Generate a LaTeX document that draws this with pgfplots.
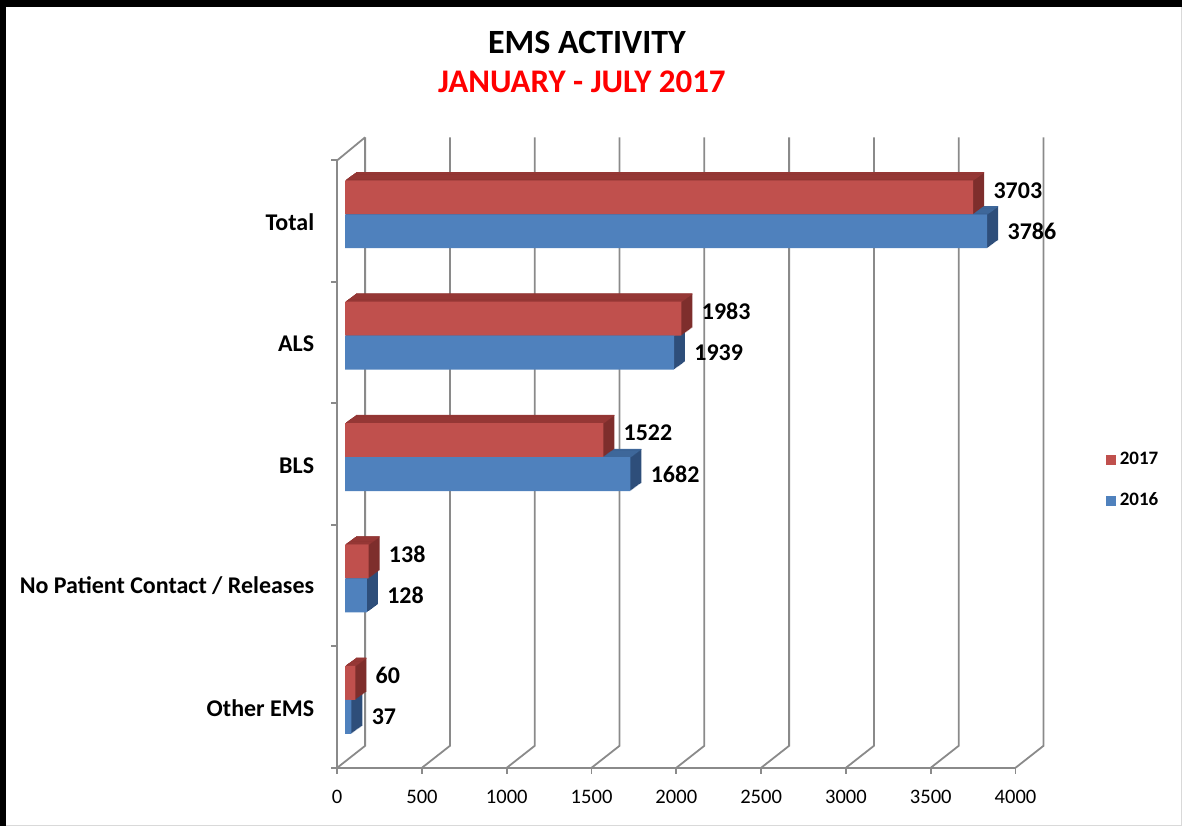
\documentclass[border=0pt]{standalone}
\usepackage{fontspec}
\setmainfont{Carlito}
\usepackage{pgfplots}
\pgfplotsset{compat=1.18}
\usepackage{pgfplotstable}
\definecolor{redF}{HTML}{C0504D}
\definecolor{redT}{HTML}{953735}
\definecolor{redS}{HTML}{7E2E2C}
\definecolor{bluF}{HTML}{4F81BD}
\definecolor{bluT}{HTML}{3E679A}
\definecolor{bluS}{HTML}{2E4E7A}
\definecolor{gridc}{HTML}{8A8A8A}
\definecolor{framegray}{HTML}{D9D9D9}
\pgfplotstableread{
y v17 v16
0 60 37
1 138 128
2 1522 1682
3 1983 1939
4 3703 3786
}\datatab
\begin{document}
\begin{tikzpicture}
\begin{axis}[
  x=0.084875pt, y=60.75pt,
  xmin=-47.13, xmax=3952.87, ymin=-0.5597, ymax=4.444,
  axis x line=bottom, axis y line=left,
  axis line style={gridc, line width=0.9pt, -},
  clip=false,
  xtick={-47.13,452.87,952.87,1452.87,1952.87,2452.87,2952.87,3452.87,3952.87},
  xticklabels={0,500,1000,1500,2000,2500,3000,3500,4000},
  ytick={-0.5597,0.4411,1.4419,2.4427,3.4435,4.444},
  yticklabels={},
  tick align=outside, major tick length=3pt,
  tick style={gridc, line width=0.9pt},
  extra y ticks={-0.066,0.938,1.926,2.930,3.934},
  extra y tick labels={Other EMS, No Patient Contact / Releases, BLS, ALS, Total},
  extra y tick style={major tick length=0pt,
    yticklabel style={font=\bfseries\fontsize{12}{14}\selectfont, xshift=-8pt}},
  xticklabel style={font=\fontsize{10.3}{12}\selectfont, yshift=-4.5pt},
  /pgf/number format/assume math mode=true,
  /pgf/number format/1000 sep={},
  legend style={draw=none, fill=none, at={(axis cs:4483,2.075)}, anchor=north west,
    font=\bfseries\fontsize{9.5}{11}\selectfont, row sep=8.5pt, inner sep=0pt},
  legend cell align=left,
]
% back wall and floor grid
\addplot[gridc, line width=0.9pt, forget plot] coordinates {(-47.13,4.444) (117.8,4.634)};
\addplot[gridc, line width=0.9pt, forget plot] coordinates {(-47.13,-0.5597) (117.8,-0.3786) (117.8,4.634)};
\addplot[gridc, line width=0.9pt, forget plot] coordinates {(452.87,-0.5597) (617.8,-0.3786) (617.8,4.634)};
\addplot[gridc, line width=0.9pt, forget plot] coordinates {(952.87,-0.5597) (1117.8,-0.3786) (1117.8,4.634)};
\addplot[gridc, line width=0.9pt, forget plot] coordinates {(1452.87,-0.5597) (1617.8,-0.3786) (1617.8,4.634)};
\addplot[gridc, line width=0.9pt, forget plot] coordinates {(1952.87,-0.5597) (2117.8,-0.3786) (2117.8,4.634)};
\addplot[gridc, line width=0.9pt, forget plot] coordinates {(2452.87,-0.5597) (2617.8,-0.3786) (2617.8,4.634)};
\addplot[gridc, line width=0.9pt, forget plot] coordinates {(2952.87,-0.5597) (3117.8,-0.3786) (3117.8,4.634)};
\addplot[gridc, line width=0.9pt, forget plot] coordinates {(3452.87,-0.5597) (3617.8,-0.3786) (3617.8,4.634)};
\addplot[gridc, line width=0.9pt, forget plot] coordinates {(3952.87,-0.5597) (4117.8,-0.3786) (4117.8,4.634)};
% blue extrusion
\pgfplotsinvokeforeach{1,...,11}{
  \addplot[xbar, bar width=0.28, bar shift=-0.14, fill=bluS, draw=none, forget plot,
    xshift=#1*0.5pt, yshift=#1*0.3636pt] table[x=v16,y=y]{\datatab};
}
\pgfplotsinvokeforeach{1,...,11}{
  \addplot[xbar, bar width=0.009, bar shift=0, fill=bluT, draw=none, forget plot,
    xshift=#1*0.5pt, yshift=(#1-0.5)*0.3636pt] table[x=v16,y=y]{\datatab};
}
% red extrusion
\pgfplotsinvokeforeach{1,...,11}{
  \addplot[xbar, bar width=0.28, bar shift=0.14, fill=redS, draw=none, forget plot,
    xshift=#1*0.5pt, yshift=#1*0.3636pt] table[x=v17,y=y]{\datatab};
}
\pgfplotsinvokeforeach{1,...,11}{
  \addplot[xbar, bar width=0.009, bar shift=0.28, fill=redT, draw=none, forget plot,
    xshift=#1*0.5pt, yshift=(#1-0.5)*0.3636pt] table[x=v17,y=y]{\datatab};
}
% front faces
\addplot[xbar, bar width=0.28, bar shift=0.14, fill=redF, draw=none,
  point meta=x, nodes near coords,
  nodes near coords style={anchor=west, inner sep=0pt, xshift=10pt, yshift=12pt,
    font=\bfseries\fontsize{12}{14}\selectfont, black},
  legend image code/.code={\fill[redF] (-1.5pt,-2.5pt) rectangle (3.5pt,2.5pt);}]
  table[x=v17,y=y]{\datatab};
\addlegendentry{2017}
\addplot[xbar, bar width=0.28, bar shift=-0.14, fill=bluF, draw=none,
  point meta=x, nodes near coords,
  nodes near coords style={anchor=west, inner sep=0pt, xshift=10pt, yshift=-8.5pt,
    font=\bfseries\fontsize{12}{14}\selectfont, black},
  legend image code/.code={\fill[bluF] (-1.5pt,-2.5pt) rectangle (3.5pt,2.5pt);}]
  table[x=v16,y=y]{\datatab};
\addlegendentry{2016}
% titles
\node[font=\bfseries\fontsize{17}{20}\selectfont] at (axis cs:1425.6,5.416) {EMS ACTIVITY};
\node[font=\bfseries\fontsize{16.5}{20}\selectfont, text=red] at (axis cs:1396,5.09) {JANUARY - JULY 2017};
% frame corners
\coordinate (TL) at (axis cs:-2032.4,5.761);
\coordinate (BR) at (axis cs:4931.5,-1.037);
\end{axis}
\draw[framegray, line width=0.5pt] (TL) rectangle (BR);
\fill[black] (TL) rectangle ([xshift=3pt]TL |- BR);
\fill[black] (TL) rectangle ([yshift=-3.5pt]BR |- TL);
\end{tikzpicture}
\end{document}
